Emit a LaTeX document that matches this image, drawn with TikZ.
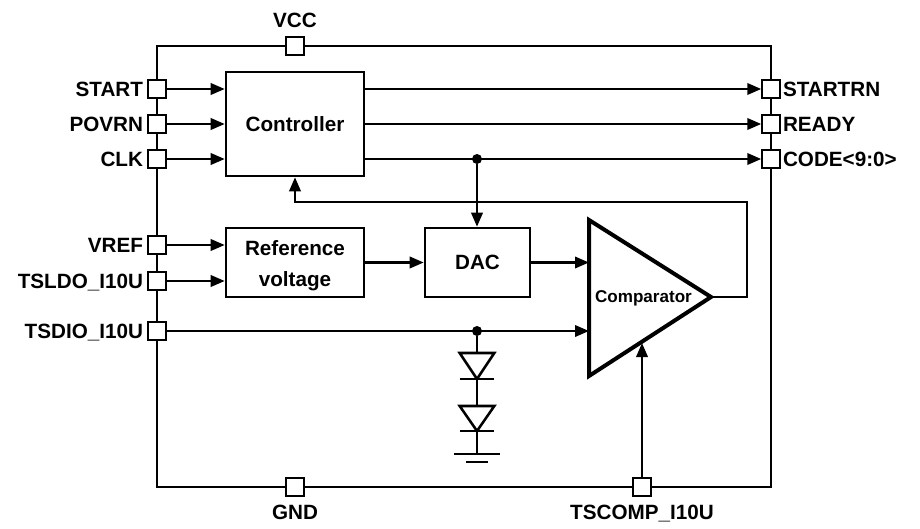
\documentclass[tikz,border=0pt]{standalone}
\usepackage{fontspec}
\setmainfont{Liberation Sans}
\usetikzlibrary{arrows.meta,positioning}
\begin{document}
\begin{tikzpicture}[
  x=0.75pt, y=-0.75pt,
  font=\fontsize{15.5}{23}\selectfont\bfseries,
  wire/.style={line width=1.9pt},
  sig/.style={wire, -{Triangle[length=10.5pt,width=8.5pt]}},
  pin/.style={draw, line width=1.6pt, fill=white, minimum size=13pt, inner sep=0pt},
  block/.style={draw, line width=1.9pt, align=center, inner sep=0pt},
  dot/.style={circle, fill=black, minimum size=7.5pt, inner sep=0pt},
  lbl/.style={inner sep=0pt, text depth=0pt},
  node distance=3pt
]
\useasboundingbox (0,0) rectangle (920,528);
\fill[white] (0,0) rectangle (920,528);
\node[draw, wire, minimum width=460.5pt, minimum height=330.75pt, inner sep=0pt] (chip) at (464,266.5) {};
% pins
\node[pin] (vcc) at (295,46) {};
\node[pin] (gnd) at (295,487) {};
\node[pin] (tscomp) at (642,487) {};
\node[pin] (start) at (157,89) {};
\node[pin] (povrn) at (157,124) {};
\node[pin] (clk) at (157,159) {};
\node[pin] (vref) at (157,245) {};
\node[pin] (tsldo) at (157,281) {};
\node[pin] (tsdio) at (157,331) {};
\node[pin] (startrn) at (771,89) {};
\node[pin] (ready) at (771,124) {};
\node[pin] (code) at (771,159) {};
\node[lbl, above=6pt of vcc] (vcclbl) {VCC};
\node[lbl, below=6pt of gnd] (gndlbl) {GND};
\node[lbl, below=6pt of tscomp] (tscomplbl) {TSCOMP\_I10U};
\node[lbl, left=of start] (startlbl) {START};
\node[lbl, left=of povrn] (povrnlbl) {POVRN};
\node[lbl, left=of clk] (clklbl) {CLK};
\node[lbl, left=of vref] (vreflbl) {VREF};
\node[lbl, left=of tsldo] (tsldolbl) {TSLDO\_I10U};
\node[lbl, left=of tsdio] (tsdiolbl) {TSDIO\_I10U};
\node[lbl, right=1.5pt of startrn] (startrnlbl) {STARTRN};
\node[lbl, right=1.5pt of ready] (readylbl) {READY};
\node[lbl, right=1.5pt of code] (codelbl) {CODE<9:0>};
% blocks
\node[block, minimum width=103.5pt, minimum height=78pt] (ctrl) at (295,124) {Controller};
\node[block, minimum width=103.5pt, minimum height=51.75pt] (refv) at (295,262.5) {\rule{0pt}{16pt}Reference\\voltage};
\node[block, minimum width=78.75pt, minimum height=51.75pt] (dac) at (477.5,262.5) {DAC};
\draw[line width=3pt, line join=miter] (589,220) -- (711,297) -- (589,376) -- cycle;
\coordinate (cmpin1) at (589,262.5);
\coordinate (cmpin2) at (589,331);
\coordinate (cmpin3) at (642,343);
\coordinate (cmpout) at (711,297);
\node[font=\fontsize{12.8}{14}\selectfont\bfseries, inner sep=0pt] (cmplbl) at (643.5,298) {Comparator};
% signals
\draw[sig] (start) -- (start -| ctrl.west);
\draw[sig] (povrn) -- (povrn -| ctrl.west);
\draw[sig] (clk) -- (clk -| ctrl.west);
\draw[sig] (vref) -- (vref -| refv.west);
\draw[sig] (tsldo) -- (tsldo -| refv.west);
\draw[sig] (startrn -| ctrl.east) -- (startrn);
\draw[sig] (ready -| ctrl.east) -- (ready);
\draw[sig] (code -| ctrl.east) -- (code);
\node[dot] (clkdot) at (477,159) {};
\draw[sig] (clkdot) -- (clkdot |- dac.north);
\draw[sig] (refv) -- (dac);
\draw[sig] (dac) -- (cmpin1);
\draw[sig] (tsdio) -- (cmpin2);
\draw[sig] (tscomp) -- (cmpin3);
\draw[sig] (cmpout) -- (747,297) -- (747,202) -- (295,202) -- (ctrl);
% diodes
\node[dot] (diodot) at (477,331) {};
\coordinate (d1a) at (477,353);
\coordinate (d1k) at (477,379);
\coordinate (d2a) at (477,406);
\coordinate (d2k) at (477,431);
\coordinate (gnda) at (477,454);
\coordinate (gndb) at (477,462);
\draw[wire] (diodot) -- (d1a) (d1k) -- (d2a) (d2k) -- (gnda);
\draw[wire, line join=miter] ([xshift=-13]d1a) -- ([xshift=13]d1a) -- (d1k) -- cycle;
\draw[wire, line join=miter] ([xshift=-13]d2a) -- ([xshift=13]d2a) -- (d2k) -- cycle;
\draw[wire] ([xshift=-13]d1k) -- ([xshift=13]d1k);
\draw[wire] ([xshift=-13]d2k) -- ([xshift=13]d2k);
\draw[wire] ([xshift=-17]gnda) -- ([xshift=17]gnda);
\draw[wire] ([xshift=-8]gndb) -- ([xshift=8]gndb);
\end{tikzpicture}
\end{document}
